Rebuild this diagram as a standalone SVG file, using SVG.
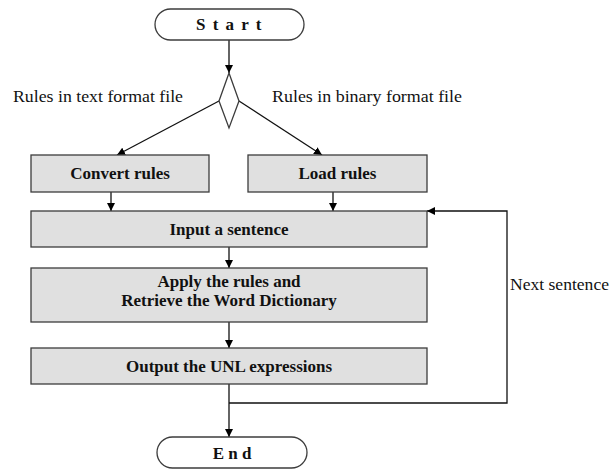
<svg xmlns="http://www.w3.org/2000/svg" width="610" height="470" viewBox="0 0 610 470">
  <style>
    .box { fill: #e0e0e0; stroke: #3c3c3c; stroke-width: 1.3; }
    .term { fill: #ffffff; stroke: #3c3c3c; stroke-width: 1.3; }
    text { font-family: "Liberation Serif", "DejaVu Serif", "Times New Roman", serif; font-size: 17px; fill: #111; }
    .lbl { font-weight: bold; text-anchor: middle; }
    .edge { fill: none; stroke: #111; stroke-width: 1.3; }
    .arr { marker-end: url(#head); }
  </style>
  <defs>
    <marker id="head" viewBox="0 0 10 10" refX="10" refY="5" markerWidth="8" markerHeight="8" markerUnits="userSpaceOnUse" orient="auto">
      <path d="M0,0 L10,5 L0,10 Z" fill="#000"/>
    </marker>
  </defs>
  <rect width="610" height="470" fill="#ffffff"/>

  <g id="connectors">
    <line class="edge arr" x1="229" y1="40" x2="229" y2="73"/>
    <line class="edge arr" x1="219" y1="101" x2="117" y2="155"/>
    <line class="edge arr" x1="239" y1="101" x2="322" y2="155"/>
    <line class="edge arr" x1="111" y1="192" x2="111" y2="211"/>
    <line class="edge arr" x1="333" y1="192" x2="333" y2="211"/>
    <line class="edge arr" x1="229" y1="247" x2="229" y2="268"/>
    <line class="edge arr" x1="229" y1="322" x2="229" y2="348"/>
    <line class="edge arr" x1="229" y1="384" x2="229" y2="437"/>
    <polyline class="edge arr" points="229,403 507,403 507,211 427,211"/>
    <text x="13" y="102" textLength="170" lengthAdjust="spacingAndGlyphs">Rules in text format file</text>
    <text x="272" y="102" textLength="190" lengthAdjust="spacingAndGlyphs">Rules in binary format file</text>
    <text x="510" y="290" textLength="99" lengthAdjust="spacingAndGlyphs">Next sentence</text>
  </g>

  <g id="start">
    <rect class="term" x="155" y="9" width="149" height="31" rx="15.5"/>
    <text class="lbl" x="229.5" y="30" letter-spacing="1.5">S t a r t</text>
  </g>

  <g id="decision">
    <polygon class="term" points="229,73 239,101 229,128 219,101"/>
  </g>

  <g id="convert">
    <rect class="box" x="31" y="155" width="178" height="37"/>
    <text class="lbl" x="120" y="179">Convert rules</text>
  </g>

  <g id="load">
    <rect class="box" x="248" y="155" width="179" height="37"/>
    <text class="lbl" x="337.5" y="179">Load rules</text>
  </g>

  <g id="input">
    <rect class="box" x="31" y="211" width="396" height="36"/>
    <text class="lbl" x="229" y="235">Input a sentence</text>
  </g>

  <g id="apply">
    <rect class="box" x="31" y="268" width="396" height="54"/>
    <text class="lbl" x="229" y="287">Apply the rules and</text>
    <text class="lbl" x="229" y="306">Retrieve the Word Dictionary</text>
  </g>

  <g id="output">
    <rect class="box" x="31" y="348" width="396" height="36"/>
    <text class="lbl" x="229" y="372">Output the UNL expressions</text>
  </g>

  <g id="end">
    <rect class="term" x="157" y="437" width="150" height="31" rx="15.5"/>
    <text class="lbl" x="232" y="459">E n d</text>
  </g>
</svg>
